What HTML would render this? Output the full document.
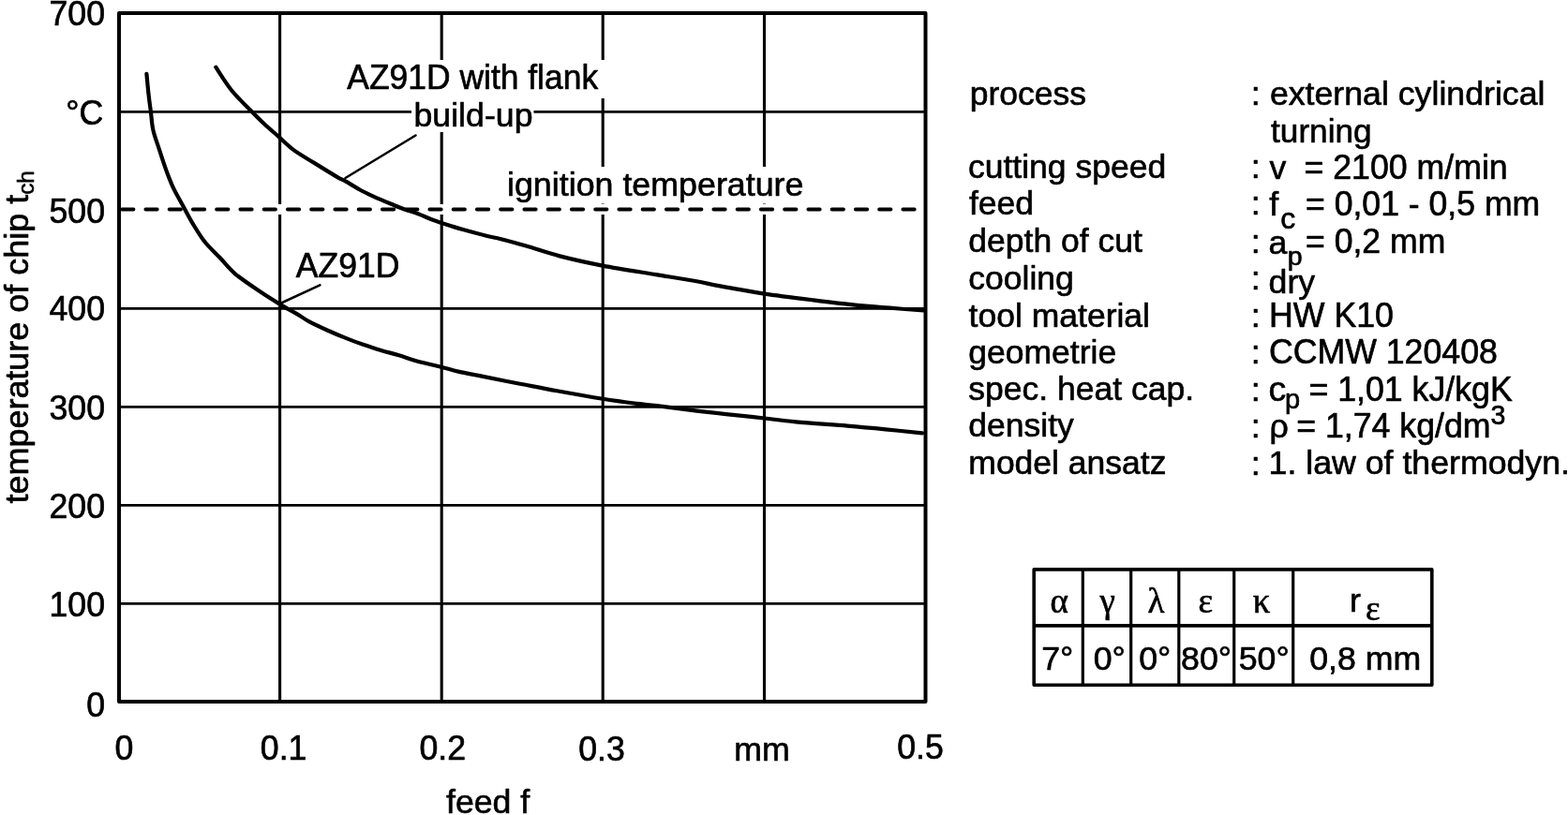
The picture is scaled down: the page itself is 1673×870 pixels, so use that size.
<!DOCTYPE html>
<html lang="en"><head><meta charset="utf-8"><title>Temperature of chip vs feed</title>
<style>
html,body{margin:0;padding:0;background:#fff;}
svg{display:block;}
text{font-family:"Liberation Sans",Arial,Helvetica,sans-serif;font-size:35.7px;fill:#000;stroke:#000;stroke-width:0.65px;stroke-linejoin:round;}
.g{font-family:"Liberation Serif","DejaVu Serif",serif;}
.sub{font-size:28px;}
</style></head><body>
<svg width="1673" height="870" viewBox="0 0 1673 870">
<rect x="0" y="0" width="1673" height="870" fill="#fff"/>
<g stroke="#000" stroke-width="2.8" fill="none">
<line x1="298.6" y1="14" x2="298.6" y2="749" stroke-width="3.1"/>
<line x1="471.2" y1="14" x2="471.2" y2="749" stroke-width="3.1"/>
<line x1="643.2" y1="14" x2="643.2" y2="749" stroke-width="3.1"/>
<line x1="815.5" y1="14" x2="815.5" y2="749" stroke-width="3.1"/>
<line x1="127" y1="119.3" x2="987.5" y2="119.3"/>
<line x1="127" y1="329.3" x2="987.5" y2="329.3"/>
<line x1="127" y1="434.3" x2="987.5" y2="434.3"/>
<line x1="127" y1="539.3" x2="987.5" y2="539.3"/>
<line x1="127" y1="644.3" x2="987.5" y2="644.3"/>
</g>
<line x1="129" y1="223.5" x2="986" y2="223.5" stroke="#fff" stroke-width="11"/>
<line x1="128.6" y1="223.5" x2="986" y2="223.5" stroke="#000" stroke-width="3.8" stroke-linecap="round" stroke-dasharray="12.4 12.85" stroke-dashoffset="-1.5"/>
<rect x="366" y="64" width="280" height="41" fill="#fff"/>
<rect x="439" y="104" width="130.5" height="37" fill="#fff"/>
<rect x="538" y="178" width="322" height="39.5" fill="#fff"/>
<rect x="127" y="14" width="860.5" height="735" fill="none" stroke="#000" stroke-width="4" stroke-linejoin="round"/>
<path d="M156.4,78.8 C156.8,82.5 157.8,94.5 158.6,101.2 C159.3,107.9 160.1,112.9 160.9,119.2 C161.7,125.5 161.9,132.0 163.4,138.9 C164.9,145.8 167.9,153.2 170.2,160.4 C172.5,167.6 175.0,175.3 177.4,181.9 C179.8,188.5 181.5,193.3 184.6,199.9 C187.7,206.5 192.6,214.9 196.2,221.5 C199.8,228.1 202.4,233.3 206.1,239.4 C209.8,245.5 213.8,252.3 218.6,258.3 C223.4,264.3 229.4,269.6 234.8,275.3 C240.2,281.0 244.0,286.5 250.9,292.3 C257.8,298.1 268.1,304.9 276.0,310.3 C283.9,315.7 291.5,320.4 298.4,324.6 C305.3,328.8 311.9,332.3 317.2,335.4 C322.5,338.5 324.7,340.5 330.0,343.4 C335.3,346.2 342.7,349.6 349.1,352.5 C355.5,355.4 361.9,358.1 368.3,360.6 C374.7,363.2 381.0,365.6 387.4,367.8 C393.8,370.0 400.1,372.1 406.5,374.0 C412.9,375.9 419.2,377.4 425.6,379.3 C432.0,381.2 437.3,383.4 444.8,385.5 C452.3,387.6 463.1,389.8 470.6,391.7 C478.1,393.6 482.9,395.3 490.0,396.9 C497.1,398.5 502.3,399.3 512.9,401.4 C523.5,403.5 540.0,406.9 553.6,409.5 C567.2,412.1 579.4,414.6 594.3,417.3 C609.2,420.0 628.9,423.5 643.2,425.8 C657.5,428.1 670.4,429.7 680.0,430.9 C689.6,432.1 689.8,431.9 700.7,433.2 C711.6,434.5 731.9,437.2 745.5,438.8 C759.1,440.4 770.4,441.6 782.1,442.9 C793.8,444.2 804.4,445.2 815.6,446.5 C826.8,447.8 834.5,449.0 849.2,450.4 C864.0,451.8 888.2,453.3 904.1,454.6 C920.0,455.9 931.5,457.0 944.8,458.3 C958.1,459.6 977.5,461.7 984.0,462.4" fill="none" stroke="#000" stroke-width="4.2" stroke-linecap="round" stroke-linejoin="round"/>
<path d="M230.3,71.7 C231.6,73.8 235.5,80.0 238.3,84.2 C241.1,88.4 244.3,93.1 247.3,96.8 C250.3,100.5 252.9,103.0 256.3,106.6 C259.7,110.2 263.7,114.1 267.9,118.3 C272.1,122.5 276.5,127.1 281.4,131.7 C286.3,136.3 292.1,141.3 297.5,146.1 C302.9,150.9 307.4,155.8 313.7,160.4 C320.0,165.0 327.5,169.1 335.2,173.9 C342.9,178.7 354.6,185.9 360.0,189.1 C365.4,192.3 363.7,190.7 367.7,192.9 C371.7,195.1 378.8,199.7 383.9,202.5 C389.0,205.3 392.7,207.0 398.3,209.6 C403.9,212.2 411.8,215.5 417.4,217.8 C423.0,220.1 426.9,221.8 431.7,223.5 C436.5,225.2 441.3,226.5 446.1,228.3 C450.9,230.1 456.3,232.6 460.4,234.2 C464.5,235.8 465.3,236.1 470.9,237.9 C476.5,239.7 485.7,242.7 493.9,245.0 C502.1,247.3 513.2,250.3 520.0,252.0 C526.8,253.7 527.6,253.4 534.5,255.2 C541.4,257.0 550.9,259.6 561.4,262.6 C571.9,265.6 583.6,269.9 597.2,273.4 C610.8,276.9 625.9,280.3 643.0,283.6 C660.1,286.9 683.5,290.4 700.0,293.1 C716.5,295.8 731.2,298.1 741.9,300.0 C752.6,301.9 756.7,303.2 764.1,304.6 C771.5,306.0 777.8,307.1 786.4,308.6 C795.0,310.1 802.0,311.6 815.6,313.6 C829.2,315.6 851.8,318.4 867.9,320.4 C884.0,322.4 898.7,324.2 912.3,325.6 C925.9,327.0 937.2,327.7 949.4,328.7 C961.6,329.7 979.5,331.0 985.5,331.5" fill="none" stroke="#000" stroke-width="4.2" stroke-linecap="round" stroke-linejoin="round"/>
<g stroke="#000" stroke-width="2.6" stroke-linecap="round">
<line x1="368.5" y1="190" x2="443.5" y2="144.5"/>
<line x1="298.4" y1="324.2" x2="341.4" y2="304.4"/>
</g>
<text transform="translate(370.3,95.3) scale(0.993,1.04)">AZ91D with flank</text>
<text transform="translate(441.5,134.5) scale(1.0,0.97)">build-up</text>
<text transform="translate(541,209.4) scale(1.003,0.97)">ignition temperature</text>
<text transform="translate(315.8,295.6) scale(0.995,1.06)">AZ91D</text>
<text transform="translate(112,27.2) scale(1.0,1.06)" text-anchor="end">700</text>
<text transform="translate(112,237.5) scale(1.0,1.06)" text-anchor="end">500</text>
<text transform="translate(112,341.9) scale(1.0,1.06)" text-anchor="end">400</text>
<text transform="translate(112,448.1) scale(1.0,1.06)" text-anchor="end">300</text>
<text transform="translate(112,552.5) scale(1.0,1.06)" text-anchor="end">200</text>
<text transform="translate(112,657.5) scale(1.0,1.06)" text-anchor="end">100</text>
<text transform="translate(110.2,132.5) scale(1.0,1.06)" text-anchor="end">°C</text>
<text transform="translate(112,765) scale(1.0,1.06)" text-anchor="end">0</text>
<text transform="translate(132.3,811) scale(1.0,1.06)" text-anchor="middle">0</text>
<text transform="translate(302.6,811) scale(1.0,1.06)" text-anchor="middle">0.1</text>
<text transform="translate(472.2,811) scale(1.0,1.06)" text-anchor="middle">0.2</text>
<text transform="translate(642,811.6) scale(1.0,1.06)" text-anchor="middle">0.3</text>
<text transform="translate(982,810.4) scale(1.0,1.06)" text-anchor="middle">0.5</text>
<text x="813" y="811.6" text-anchor="middle">mm</text>
<text transform="translate(476,867.9) scale(1.0,0.97)">feed f</text>
<text transform="translate(29.8,537.5) rotate(-90) scale(1.007,0.98)">temperature of chip t<tspan style="font-size:24px" dy="6.5">ch</tspan></text>
<text transform="translate(1034.8,111.8) scale(0.995,0.97)">process</text>
<text x="1334.8" y="112.0">:</text>
<text transform="translate(1033.0,189.9) scale(0.995,0.97)">cutting speed</text>
<text x="1334.8" y="190.1">:</text>
<text transform="translate(1033.9,228.6) scale(0.995,0.97)">feed</text>
<text x="1334.8" y="228.8">:</text>
<text transform="translate(1033.3,269.3) scale(0.995,0.97)">depth of cut</text>
<text x="1334.8" y="269.5">:</text>
<text transform="translate(1033.3,308.9) scale(0.995,0.97)">cooling</text>
<text x="1334.8" y="309.1">:</text>
<text transform="translate(1033.6,348.5) scale(0.995,0.97)">tool material</text>
<text x="1334.8" y="348.7">:</text>
<text transform="translate(1033.3,387.6) scale(0.995,0.97)">geometrie</text>
<text x="1334.8" y="387.8">:</text>
<text transform="translate(1033.3,427.3) scale(0.995,0.97)">spec. heat cap.</text>
<text x="1334.8" y="427.5">:</text>
<text transform="translate(1033.3,466.3) scale(0.995,0.97)">density</text>
<text x="1334.8" y="466.5">:</text>
<text transform="translate(1033.3,506.3) scale(0.995,0.97)">model ansatz</text>
<text x="1334.8" y="506.5">:</text>
<text transform="translate(1354.8999999999999,112.2) scale(1.0,0.97)">external cylindrical</text>
<text transform="translate(1356.1,152.2) scale(0.985,0.97)">turning</text>
<text transform="translate(1354.6,190.8) scale(1.0,0.97)">v</text>
<text transform="translate(1391.5,190.8) scale(1.0,1.03)">= 2100 m/min</text>
<text transform="translate(1354.3,230.3) scale(1.0,0.97)">f</text>
<text x="1366.2" y="244" style="font-size:32px">c</text>
<text transform="translate(1393,230) scale(0.997,1.04)">= 0,01 - 0,5 mm</text>
<text x="1353.6" y="270.5">a</text>
<text x="1373.8" y="283" style="font-size:28.5px">p</text>
<text transform="translate(1393,270.4) scale(0.997,1.04)">= 0,2 mm</text>
<text transform="translate(1353.6,313) scale(1.0,0.97)">dry</text>
<text transform="translate(1354.1,348.5) scale(1.0,1.04)">HW K10</text>
<text transform="translate(1353.8999999999999,388.3) scale(1.0,1.04)">CCMW 120408</text>
<text transform="translate(1353.3999999999999,428.3) scale(1.05,1.02)">c</text>
<text x="1371" y="436.2" style="font-size:29px">p</text>
<text transform="translate(1396.5,428.2) scale(1.0,1.03)">= 1,01 kJ/kgK</text>
<text x="1354.6" y="466.6">ρ</text>
<text transform="translate(1383.2,466.6) scale(1.0,1.02)">= 1,74 kg/dm</text>
<text transform="translate(1590.5,453) scale(1.0,1.06)" style="font-size:28.5px">3</text>
<text transform="translate(1353.6,506.4) scale(1.0,0.97)">1. law of thermodyn.</text>
<g stroke="#000" stroke-width="3.6" fill="none" stroke-linejoin="round">
<rect x="1103.2" y="607.9" width="424.6" height="123.3"/>
<line x1="1103.2" y1="667.9" x2="1527.8" y2="667.9"/>
<line x1="1155.3" y1="607.9" x2="1155.3" y2="731.2" stroke-width="3.2"/>
<line x1="1206.7" y1="607.9" x2="1206.7" y2="731.2" stroke-width="3.2"/>
<line x1="1257.8" y1="607.9" x2="1257.8" y2="731.2" stroke-width="3.2"/>
<line x1="1316.7" y1="607.9" x2="1316.7" y2="731.2" stroke-width="3.2"/>
<line x1="1379.7" y1="607.9" x2="1379.7" y2="731.2" stroke-width="3.2"/>
</g>
<text x="1130.2" y="653.5" text-anchor="middle" class="g" style="font-size:37px">α</text>
<text x="1181.7" y="653.5" text-anchor="middle" class="g" style="font-size:37px">γ</text>
<text x="1233.6" y="653.5" text-anchor="middle" class="g" style="font-size:37px">λ</text>
<text x="1286.2" y="653.5" text-anchor="middle" class="g" style="font-size:37px">ε</text>
<text x="1346.2" y="653.5" text-anchor="middle" class="g" style="font-size:37px">κ</text>
<text x="1440" y="652.5">r</text>
<text x="1457" y="661.5" class="g" style="font-size:37px">ε</text>
<text x="1128.3" y="714.7" text-anchor="middle">7°</text>
<text x="1183.7" y="714.7" text-anchor="middle">0°</text>
<text x="1232.2" y="714.7" text-anchor="middle">0°</text>
<text x="1287.1" y="714.7" text-anchor="middle">80°</text>
<text x="1348.7" y="714.7" text-anchor="middle">50°</text>
<text x="1456.7" y="714.7" text-anchor="middle">0,8 mm</text>
</svg></body></html>
